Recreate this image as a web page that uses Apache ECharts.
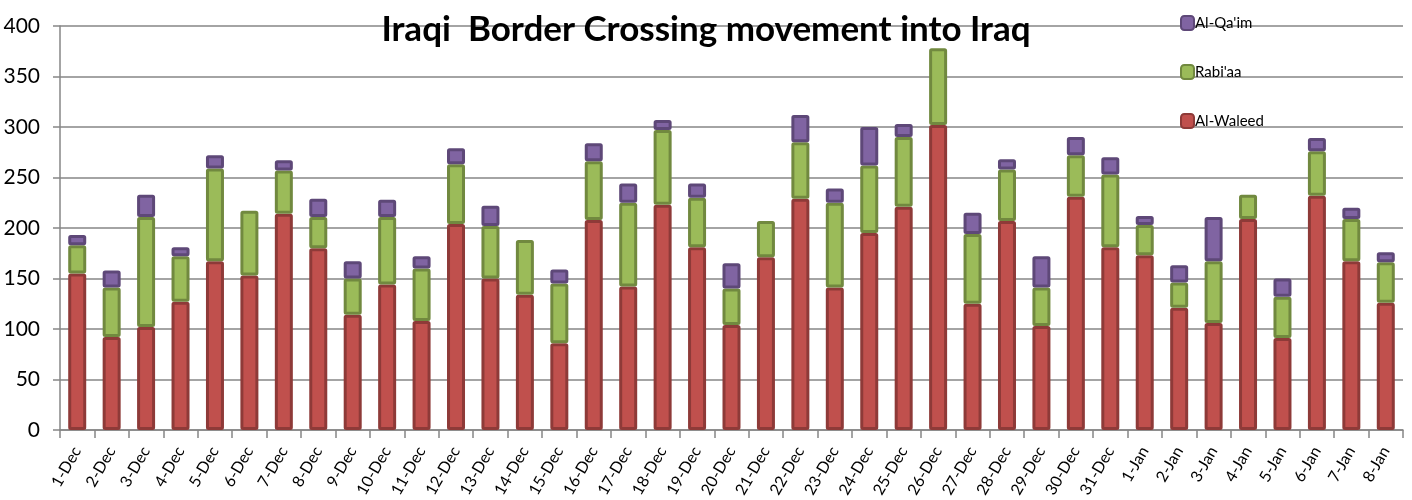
<!DOCTYPE html>
<html>
<head>
<meta charset="utf-8">
<title>Iraqi Border Crossing movement into Iraq</title>
<script src="https://cdn.jsdelivr.net/npm/echarts@6/dist/echarts.min.js"></script>
<style>
  html, body { margin: 0; padding: 0; background: #fff; }
  #chart { width: 1412px; height: 500px; }
</style>
</head>
<body>
<div id="chart"></div>
<script>
// dates on the x axis
var days = ['1-Dec', '2-Dec', '3-Dec', '4-Dec', '5-Dec', '6-Dec', '7-Dec', '8-Dec', '9-Dec', '10-Dec',
  '11-Dec', '12-Dec', '13-Dec', '14-Dec', '15-Dec', '16-Dec', '17-Dec', '18-Dec', '19-Dec', '20-Dec',
  '21-Dec', '22-Dec', '23-Dec', '24-Dec', '25-Dec', '26-Dec', '27-Dec', '28-Dec', '29-Dec', '30-Dec',
  '31-Dec', '1-Jan', '2-Jan', '3-Jan', '4-Jan', '5-Jan', '6-Jan', '7-Jan', '8-Jan'];

// crossings per day
var alWaleed = [155, 92, 102, 127, 167, 153, 214, 180, 114, 144,
  108, 204, 150, 134, 86, 208, 142, 223, 181, 104,
  171, 229, 141, 195, 221, 302, 125, 207, 103, 231,
  181, 173, 121, 106, 209, 91, 232, 167, 126];
var rabiaa = [28, 49, 109, 45, 92, 64, 43, 31, 36, 67,
  52, 59, 52, 54, 59, 58, 83, 74, 49, 36,
  36, 56, 84, 67, 69, 76, 69, 51, 38, 41,
  72, 30, 25, 61, 24, 41, 44, 42, 40];
var alQaim = [10, 17, 22, 9, 13, 0, 10, 18, 17, 17,
  12, 16, 20, 0, 14, 18, 19, 10, 14, 25,
  0, 27, 14, 38, 13, 0, 21, 10, 31, 18,
  17, 9, 17, 44, 0, 18, 13, 11, 10];

var yTicks = [0, 50, 100, 150, 200, 250, 300, 350, 400];

var titleText = 'Iraqi  Border Crossing movement into Iraq';
var font = 'Lato, "Noto Sans", sans-serif';

// size the title so it spans about as wide as the original one (~640px)
function fitSize(text, weight, family, width) {
  var ctx = document.createElement('canvas').getContext('2d');
  ctx.font = weight + ' 100px ' + family;
  return Math.round(100 * width / ctx.measureText(text).width);
}
var titleSize = fitSize(titleText, 'bold', font, 640);

// a zero segment should not leave a border line behind
function noZero(arr) {
  return arr.map(function (v) { return v === 0 ? '-' : v; });
}

function seg(name, data, fill, edge) {
  return {
    name: name,
    type: 'bar',
    stack: 'total',
    barWidth: 18,
    data: noZero(data),
    itemStyle: { color: fill, borderColor: edge, borderWidth: 3, borderRadius: 1 },
    emphasis: { disabled: true }
  };
}

var chart = echarts.init(document.getElementById('chart'));

var option = {
  animation: false,
  backgroundColor: '#ffffff',
  title: {
    text: titleText,
    left: 'center',
    top: 12,
    padding: 0,
    textStyle: { fontFamily: font, fontWeight: 'bold', fontSize: titleSize, color: '#000' }
  },
  legend: {
    orient: 'vertical',
    left: 1175,
    top: 10,
    itemWidth: 13,
    itemHeight: 14,
    itemGap: 33,
    data: ["Al-Qa'im", "Rabi'aa", 'Al-Waleed'],
    textStyle: { fontFamily: font, fontSize: 15, color: '#000', padding: [0, 0, 0, -4] }
  },
  grid: { left: 60, right: 9, top: 26, bottom: 70, containLabel: false, outerBoundsMode: 'none' },
  xAxis: {
    type: 'category',
    data: days,
    axisLine: { lineStyle: { color: '#868686', width: 1.5 } },
    axisTick: { show: true, length: 8, lineStyle: { color: '#868686', width: 1.5 } },
    axisLabel: {
      interval: 0,
      rotate: 60,
      margin: 18,
      fontFamily: font,
      fontSize: 16,
      color: '#000'
    }
  },
  yAxis: {
    type: 'value',
    min: yTicks[0],
    max: yTicks[yTicks.length - 1],
    interval: 50,
    axisLine: { show: true, lineStyle: { color: '#868686', width: 1.5 } },
    axisTick: { show: true, length: 7, lineStyle: { color: '#868686', width: 1.5 } },
    splitLine: { lineStyle: { color: '#868686', width: 1.5 } },
    axisLabel: { margin: 20, fontFamily: font, fontSize: 21, color: '#000' }
  },
  series: [
    seg('Al-Waleed', alWaleed, '#C0504D', '#8E3A38'),
    seg("Rabi'aa", rabiaa, '#9BBB59', '#71893F'),
    seg("Al-Qa'im", alQaim, '#8064A2', '#5E4878')
  ]
};

chart.setOption(option);
</script>
</body>
</html>
